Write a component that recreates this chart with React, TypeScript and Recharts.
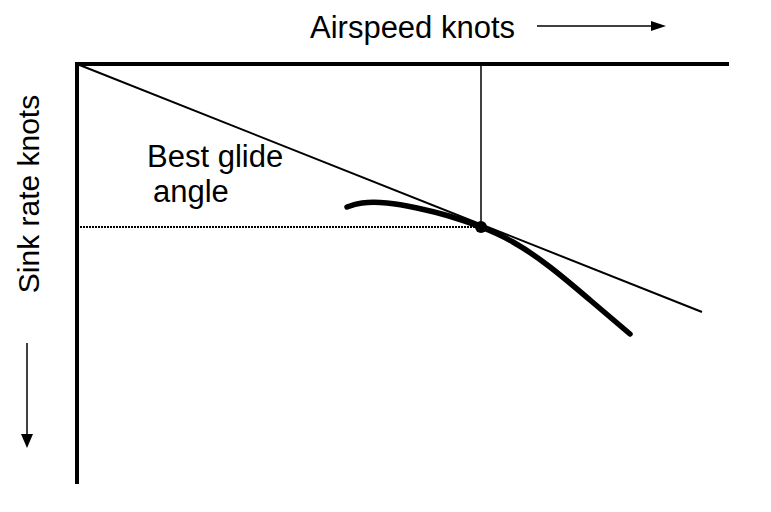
import { ComposedChart, Line, XAxis, YAxis, ReferenceLine, ReferenceDot } from 'recharts';

// glide polar, airspeed (x) vs sink rate (y, grows downwards)
const polarSpeed = [27.0, 28.5, 31.0, 34.0, 37.2, 40.4, 43.6, 47.3, 51.3, 55.3];
const polarSink = [14.3, 13.9, 13.9, 14.4, 15.2, 16.3, 17.8, 20.3, 23.6, 27.0];

// tangent from origin touching the polar
const tangentSpeed = [0, 62.5];
const tangentSink = [0, 24.8];

// best glide point
const bestSpeed = 40.4;
const bestSink = 16.3;

const polarData = polarSpeed.map((x, i) => ({ x, y: polarSink[i] }));
const tangentData = tangentSpeed.map((x, i) => ({ x, y: tangentSink[i] }));

const font = "'Liberation Sans', Arial, sans-serif";

export default function App() {
  return (
    <div style={{ position: 'absolute', left: 0, top: 0, width: 771, height: 512, background: '#fff' }}>
      <ComposedChart width={771} height={512} margin={{ top: 63, right: 44, bottom: 30, left: 76 }}>
        <XAxis
          dataKey="x"
          type="number"
          orientation="top"
          domain={[0, 65]}
          height={1}
          tick={false}
          tickLine={false}
          axisLine={{ stroke: '#000', strokeWidth: 4, strokeLinecap: 'square' }}
        />
        <YAxis
          dataKey="y"
          type="number"
          domain={[0, 41.8]}
          reversed
          width={1}
          tick={false}
          tickLine={false}
          axisLine={{ stroke: '#000', strokeWidth: 4, strokeLinecap: 'square' }}
        />
        <ReferenceLine
          segment={[{ x: 0, y: bestSink }, { x: bestSpeed, y: bestSink }]}
          stroke="#000"
          strokeWidth={2}
          strokeDasharray="2 1"
        />
        <ReferenceLine
          segment={[{ x: bestSpeed, y: 0 }, { x: bestSpeed, y: bestSink }]}
          stroke="#000"
          strokeWidth={1.5}
        />
        <Line
          data={tangentData}
          dataKey="y"
          stroke="#000"
          strokeWidth={2}
          dot={false}
          isAnimationActive={false}
        />
        <Line
          data={polarData}
          dataKey="y"
          type="natural"
          stroke="#000"
          strokeWidth={5.5}
          strokeLinecap="round"
          dot={false}
          isAnimationActive={false}
        />
        <ReferenceDot x={bestSpeed} y={bestSink} r={6} fill="#000" stroke="none" />
      </ComposedChart>
      <svg width={771} height={512} style={{ position: 'absolute', left: 0, top: 0, pointerEvents: 'none' }}>
        <text x={310} y={38} fontFamily={font} fontSize={31} fill="#000">Airspeed knots</text>
        <line x1={537} y1={26} x2={655} y2={26} stroke="#000" strokeWidth={1.5} />
        <polygon points="651,21 666,26 651,31" fill="#000" />
        <text transform="translate(39,194) rotate(-90)" textAnchor="middle" fontFamily={font} fontSize={30} fill="#000">
          Sink rate knots
        </text>
        <line x1={27} y1={343} x2={27} y2={436} stroke="#000" strokeWidth={1.5} />
        <polygon points="21,434 33,434 27,448" fill="#000" />
        <text x={147} y={167} fontFamily={font} fontSize={31} fill="#000">Best glide</text>
        <text x={153} y={202} fontFamily={font} fontSize={31} fill="#000">angle</text>
      </svg>
    </div>
  );
}
